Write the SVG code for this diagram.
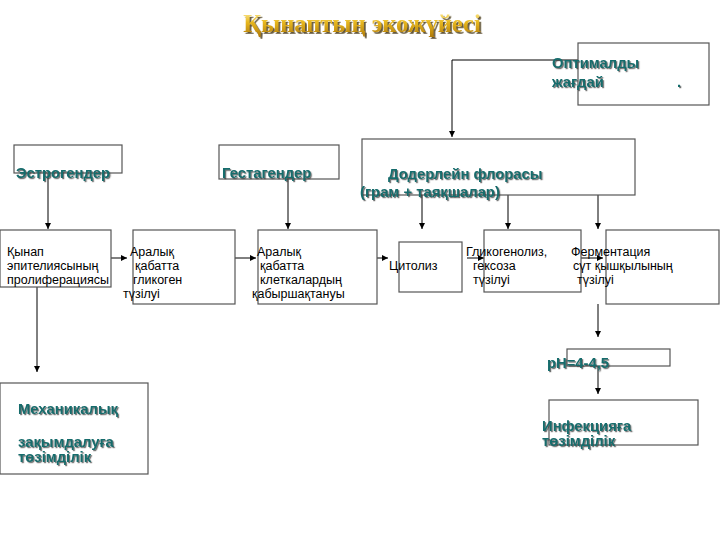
<svg xmlns="http://www.w3.org/2000/svg" width="720" height="540" viewBox="0 0 720 540">
<defs>
<linearGradient id="gold" x1="0" y1="0" x2="0" y2="1">
<stop offset="0" stop-color="#fff2a8"/>
<stop offset="0.45" stop-color="#e8b820"/>
<stop offset="1" stop-color="#b07a08"/>
</linearGradient>
<filter id="tshadow" x="-10%" y="-30%" width="120%" height="160%">
<feDropShadow dx="1.8" dy="1.8" stdDeviation="0.6" flood-color="#4a3a18" flood-opacity="0.85"/>
</filter>
<filter id="lshadow" x="-10%" y="-30%" width="120%" height="160%">
<feDropShadow dx="1.2" dy="1.2" stdDeviation="0.5" flood-color="#303030" flood-opacity="0.7"/>
</filter>
<marker id="arr" viewBox="0 0 10 10" refX="10" refY="5" markerWidth="6" markerHeight="6" orient="auto" markerUnits="userSpaceOnUse">
<path d="M0,0 L10,5 L0,10 z" fill="#000"/>
</marker>
</defs>
<style>
.box{fill:#fff;stroke:#555;stroke-width:1.2}
.lbl{font-family:"Liberation Sans",Arial,sans-serif;font-weight:bold;font-size:14.8px;fill:#186c6c;filter:url(#lshadow)}
.txt{font-family:"Liberation Sans",Arial,sans-serif;font-size:12.5px;fill:#000}
.con{fill:none;stroke:#000;stroke-width:1}
.arrow{marker-end:url(#arr)}
</style>
<rect width="720" height="540" fill="#fff"/>
<text x="362" y="32" text-anchor="middle" font-family="'Liberation Serif','Times New Roman',serif" font-weight="bold" font-size="24.5" fill="url(#gold)" filter="url(#tshadow)">Қынаптың экожүйесі</text>

<g id="connectors">
<path class="con arrow" d="M578,60 H452 V137"/>
<path class="con arrow" d="M48,173 V229"/>
<path class="con arrow" d="M288,179 V229"/>
<path class="con arrow" d="M422,195 V229"/>
<path class="con arrow" d="M508,195 V229"/>
<path class="con arrow" d="M598,195 V229"/>
<path class="con arrow" d="M111,258 H127"/>
<path class="con arrow" d="M235,258 H256"/>
<path class="con arrow" d="M377,258 H388"/>
<path class="con arrow" d="M467,258 H484"/>
<path class="con arrow" d="M581,258 H603"/>
<path class="con arrow" d="M37,287 V372"/>
<path class="con arrow" d="M598,304 V337"/>
<path class="con arrow" d="M598,366 V394"/>
</g>

<g id="optimal">
<rect class="box" x="578" y="43" width="131" height="62"/>
<text class="lbl" x="552" y="68">Оптималды</text>
<text class="lbl" x="552" y="87">жағдай</text>
<text class="lbl" x="677" y="87">.</text>
</g>

<g id="estrogen">
<rect class="box" x="14" y="145" width="108" height="28"/>
<text class="lbl" x="16" y="178">Эстрогендер</text>
</g>

<g id="gestagen">
<rect class="box" x="219" y="145" width="120" height="34"/>
<text class="lbl" x="222" y="178">Гестагендер</text>
</g>

<g id="doderlein">
<rect class="box" x="362" y="139" width="273" height="56"/>
<text class="lbl" x="388" y="179">Додерлейн флорасы</text>
<text class="lbl" x="360" y="197">(грам + таяқшалар)</text>
</g>

<g id="proliferation">
<rect class="box" x="0" y="230" width="111" height="57"/>
<text class="txt" x="7" y="256">Қынап</text>
<text class="txt" x="7" y="270">эпителиясының</text>
<text class="txt" x="7" y="284">пролиферациясы</text>
</g>

<g id="glycogen">
<rect class="box" x="133" y="230" width="102" height="74"/>
<text class="txt" x="130" y="256">Аралық</text>
<text class="txt" x="135" y="270">қабатта</text>
<text class="txt" x="133" y="284">гликоген</text>
<text class="txt" x="123" y="298">түзілуі</text>
</g>

<g id="desquamation">
<rect class="box" x="258" y="230" width="119" height="74"/>
<text class="txt" x="257" y="256">Аралық</text>
<text class="txt" x="260" y="270">қабатта</text>
<text class="txt" x="260" y="284">клеткалардың</text>
<text class="txt" x="252" y="298">қабыршақтануы</text>
</g>

<g id="cytolysis">
<rect class="box" x="399" y="242" width="63" height="50"/>
<text class="txt" x="389" y="270">Цитолиз</text>
</g>

<g id="glycogenolysis">
<rect class="box" x="484" y="230" width="97" height="62"/>
<text class="txt" x="466" y="256">Гликогенолиз,</text>
<text class="txt" x="473" y="270">гексоза</text>
<text class="txt" x="473" y="284">түзілуі</text>
</g>

<g id="fermentation">
<rect class="box" x="606" y="230" width="113" height="74"/>
<text class="txt" x="571" y="256">Ферментация</text>
<text class="txt" x="573" y="270">сүт қышқылының</text>
<text class="txt" x="577" y="284">түзілуі</text>
</g>

<g id="mechanical">
<rect class="box" x="0" y="383" width="148" height="91"/>
<text class="lbl" x="18" y="414">Механикалық</text>
<text class="lbl" x="18" y="447">зақымдалуға</text>
<text class="lbl" x="18" y="462">төзімділік</text>
</g>

<g id="ph">
<rect class="box" x="567" y="349" width="103" height="17"/>
<text class="lbl" x="547" y="368">pH=4-4,5</text>
</g>

<g id="infection">
<rect class="box" x="549" y="400" width="149" height="45"/>
<text class="lbl" x="542" y="431">Инфекцияға</text>
<text class="lbl" x="542" y="446">төзімділік</text>
</g>
</svg>
